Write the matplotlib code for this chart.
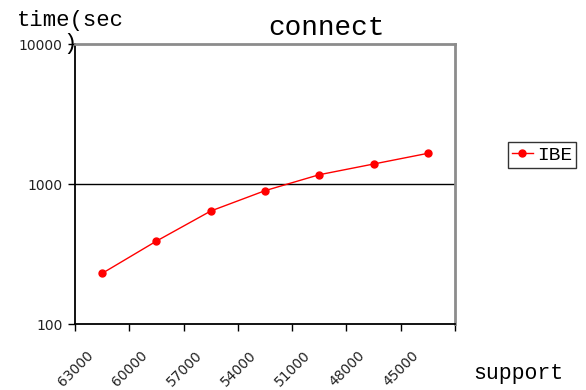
import matplotlib
matplotlib.use("Agg")
import matplotlib.pyplot as plt
from matplotlib.transforms import ScaledTranslation
import numpy as np

# data
support = ["63000", "60000", "57000", "54000", "51000", "48000", "45000"]
ibe_time = [230, 391, 641, 896, 1165, 1389, 1656]
y_ticks = [100, 1000, 10000]
y_tick_labels = ["100", "1000", "10000"]

mono = "Liberation Mono"
sans = "DejaVu Sans"

fig = plt.figure(figsize=(5.86, 3.90), dpi=100)
ax = fig.add_axes([75 / 586, 1 - 324 / 390, 380 / 586, 280 / 390])

x = np.arange(len(support))
ax.plot(x, ibe_time, color="#ff0000", lw=1.0, marker="o", ms=5,
        markeredgecolor="#ff0000", markerfacecolor="#ff0000", label="IBE", zorder=3)

ax.set_yscale("log")
ax.set_ylim(100, 10000)
ax.set_yticks(y_ticks)
ax.set_yticklabels(y_tick_labels)
ax.yaxis.set_minor_locator(matplotlib.ticker.NullLocator())
ax.axhline(1000, color="black", lw=1.0, zorder=1)
ax.tick_params(axis="y", direction="out", length=5, width=1, color="black",
               labelsize=10, pad=4)
for lab in ax.get_yticklabels():
    lab.set_fontfamily(sans)
    lab.set_color("#222222")

ax.set_xlim(-0.5, len(support) - 0.5)
ax.set_xticks(x)
ax.set_xticklabels(support, rotation=45, ha="right", va="center",
                   rotation_mode="anchor", fontsize=10, fontfamily=sans)
ax.set_xticks(np.arange(len(support) + 1) - 0.5, minor=True)
ax.tick_params(axis="x", which="major", length=0, pad=21)
ax.tick_params(axis="x", which="minor", direction="out", length=5, width=1, color="black")
offset = ScaledTranslation(-11 / 100, 0, fig.dpi_scale_trans)
for lab in ax.get_xticklabels():
    lab.set_transform(lab.get_transform() + offset)
    lab.set_color("#222222")

for side in ("left", "bottom"):
    ax.spines[side].set_color("black")
    ax.spines[side].set_linewidth(1.3)
for side in ("top", "right"):
    ax.spines[side].set_color("#8c8c8c")
    ax.spines[side].set_linewidth(2.0)

fig.text(326 / 586, 1 - 28 / 390, "connect", ha="center", va="center",
         fontfamily=mono, fontsize=20)
fig.text(70 / 586, 1 - 32 / 390, "time(sec\n)", ha="center", va="center",
         multialignment="center", fontfamily=mono, fontsize=16, linespacing=1.15)
fig.text(518 / 586, 1 - 373 / 390, "support", ha="center", va="center",
         fontfamily=mono, fontsize=15.5)

leg = ax.legend(loc="center", bbox_to_anchor=(542 / 586, 1 - 155 / 390),
                bbox_transform=fig.transFigure, frameon=True, fancybox=False,
                prop={"family": mono, "size": 14}, handlelength=1.1,
                handletextpad=0.2, borderpad=0.2, borderaxespad=0)
leg.get_frame().set_edgecolor("black")
leg.get_frame().set_linewidth(1.0)

fig.savefig("out.png", dpi=100)
